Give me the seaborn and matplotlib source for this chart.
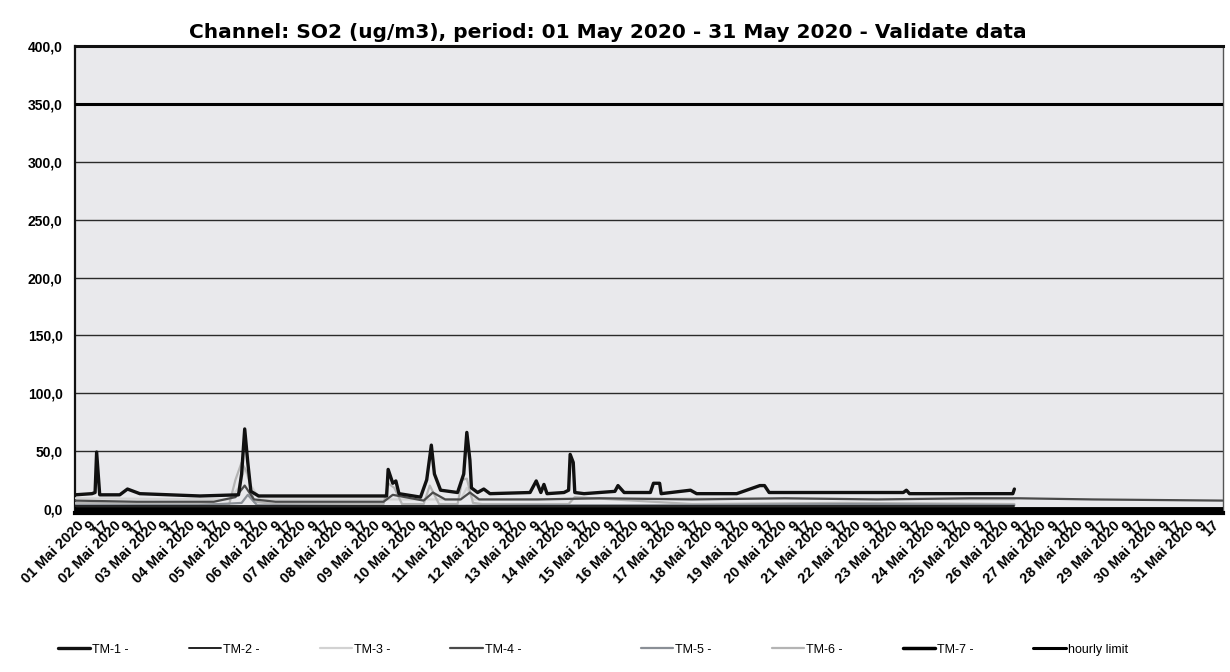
import numpy as np
import pandas as pd
import matplotlib
matplotlib.use("Agg")
import matplotlib.pyplot as plt
from matplotlib.lines import Line2D
import seaborn as sns

# hours since 01 May 2020 00:00 (ug/m3)
tm1_hours = [0, 11, 13, 14, 16, 29, 34, 42, 81, 106, 108, 110, 112, 114, 119, 184, 202, 203, 206, 208,
             210, 224, 228, 231, 233, 237, 248, 252, 254, 256, 257, 261, 265, 269, 295, 299, 302, 304, 306, 317,
             320, 321, 323, 324, 330, 350, 352, 356, 373, 375, 379, 380, 399, 403, 429, 444, 447, 450, 472, 537,
             539, 541, 558, 608, 609]
tm1_vals = [12, 13, 14, 49, 12, 12, 17, 13, 11, 12, 30, 69, 40, 15, 11, 11, 11, 34, 22, 24,
            13, 10, 25, 55, 30, 16, 14, 30, 66, 42, 18, 14, 17, 13, 14, 24, 14, 21, 13, 14,
            16, 47, 40, 14, 13, 15, 20, 14, 14, 22, 22, 13, 16, 13, 13, 20, 20, 14, 14, 14,
            16, 13, 13, 13, 17]

tm2_hours = [0, 300, 609]
tm2_vals = [2, 2, 2]

tm3_hours = [0, 100, 106, 110, 114, 120, 250, 254, 258, 400, 609]
tm3_vals = [9, 8, 18, 35, 20, 8, 8, 18, 8, 9, 8]

tm4_hours = [0, 40, 90, 104, 110, 116, 130, 200, 206, 226, 232, 240, 250, 256, 262, 300, 340, 400, 460,
             520, 580, 609, 612, 660, 744]
tm4_vals = [7, 6, 6, 10, 20, 8, 6, 6, 12, 7, 14, 8, 8, 14, 8, 8, 9, 8, 9,
            8, 9, 9, 9, 8, 7]

tm5_hours = [0, 80, 108, 112, 118, 200, 300, 400, 500, 609]
tm5_vals = [3, 3, 5, 12, 3, 2, 3, 3, 4, 3]

tm6_hours = [0, 60, 100, 104, 108, 112, 116, 130, 200, 203, 207, 212, 226, 230, 236, 248, 251, 254, 258,
             264, 320, 324, 400, 500, 609]
tm6_vals = [5, 4, 4, 25, 40, 30, 6, 4, 4, 22, 18, 4, 4, 20, 4, 4, 25, 26, 5,
            4, 4, 10, 4, 5, 4]

tm7_hours = [0, 744]
tm7_vals = [0, 0]

limit_hours = [0, 744]
limit_vals = [350, 350]

days = [f"{d:02d} Mai 2020" for d in range(1, 32)]
hour_marks = ["9", "17"]
ytick_vals = [0, 50, 100, 150, 200, 250, 300, 350, 400]
ytick_labels = ["0,0", "50,0", "100,0", "150,0", "200,0", "250,0", "300,0", "350,0", "400,0"]

title = "Channel: SO2 (ug/m3), period: 01 May 2020 - 31 May 2020 - Validate data"

sns.set_theme(style="white")
plt.rcParams['font.family'] = ['Liberation Sans', 'DejaVu Sans']
plt.rcParams['text.color'] = 'black'
plt.rcParams['xtick.color'] = 'black'
plt.rcParams['ytick.color'] = 'black'

fig = plt.figure(figsize=(12.3, 6.72), dpi=100)
ax = fig.add_axes([0.061, 0.237, 0.933, 0.694])
ax.set_facecolor('#e9e9ec')

# horizontal gridlines
for v in ytick_vals[1:7]:
    ax.axhline(v, color='#2a2a2a', lw=1.0, zorder=1)

series = [
    ("TM-3 -", tm3_hours, tm3_vals, '#d2d2d2', 1.6),
    ("TM-6 -", tm6_hours, tm6_vals, '#b4b4b4', 1.6),
    ("TM-5 -", tm5_hours, tm5_vals, '#8a8f96', 1.6),
    ("TM-2 -", tm2_hours, tm2_vals, '#222222', 1.4),
    ("TM-4 -", tm4_hours, tm4_vals, '#4a4a4a', 1.6),
    ("TM-1 -", tm1_hours, tm1_vals, '#111111', 2.4),
    ("TM-7 -", tm7_hours, tm7_vals, '#000000', 3.5),
    ("hourly limit", limit_hours, limit_vals, '#000000', 2.2),
]
styles = {}
for name, hrs, vals, col, lw in series:
    sns.lineplot(x=hrs, y=vals, ax=ax, color=col, lw=lw, legend=False, zorder=3)
    styles[name] = (col, lw)

ax.set_xlim(0, 744)
ax.set_ylim(-3.5, 400)

ax.set_yticks(ytick_vals)
ax.set_yticklabels(ytick_labels, fontsize=10, fontweight='bold')
ax.tick_params(axis='y', length=6, width=1, color='#222222', pad=3)

xt, xl = [], []
for i, d in enumerate(days):
    xt += [i * 24 + 1, i * 24 + 9, i * 24 + 17]
    xl += [d] + hour_marks
ax.set_xticks(xt)
ax.set_xticklabels(xl, rotation=45, ha='right', va='top', rotation_mode='anchor',
                   fontsize=10.5, fontweight='bold')
ax.tick_params(axis='x', length=0, pad=4)
ax.set_xlabel("")
ax.set_ylabel("")

for side in ['left', 'top']:
    ax.spines[side].set_color('#111111')
    ax.spines[side].set_linewidth(1.6)
ax.spines['top'].set_linewidth(2.2)
ax.spines['right'].set_color('#555555')
ax.spines['right'].set_linewidth(1.0)
ax.spines['bottom'].set_color('#000000')
ax.spines['bottom'].set_linewidth(3)

fig.text(0.494, 0.952, title, ha='center', va='center', fontsize=14.5, fontweight='bold',
         family=['DejaVu Sans'])

order = ["TM-1 -", "TM-2 -", "TM-3 -", "TM-4 -", "TM-5 -", "TM-6 -", "TM-7 -", "hourly limit"]
handles = [Line2D([], [], color=styles[n][0], lw=min(styles[n][1], 2.5)) for n in order]
for k, x0 in [(0, 0.043), (4, 0.517)]:
    fig.legend(handles[k:k + 4], order[k:k + 4], loc='center left', bbox_to_anchor=(x0, 0.033),
               ncol=4, frameon=False, fontsize=9, handlelength=2.6, handletextpad=0.15,
               columnspacing=4.8, borderaxespad=0)

fig.savefig("out.png", dpi=100)
